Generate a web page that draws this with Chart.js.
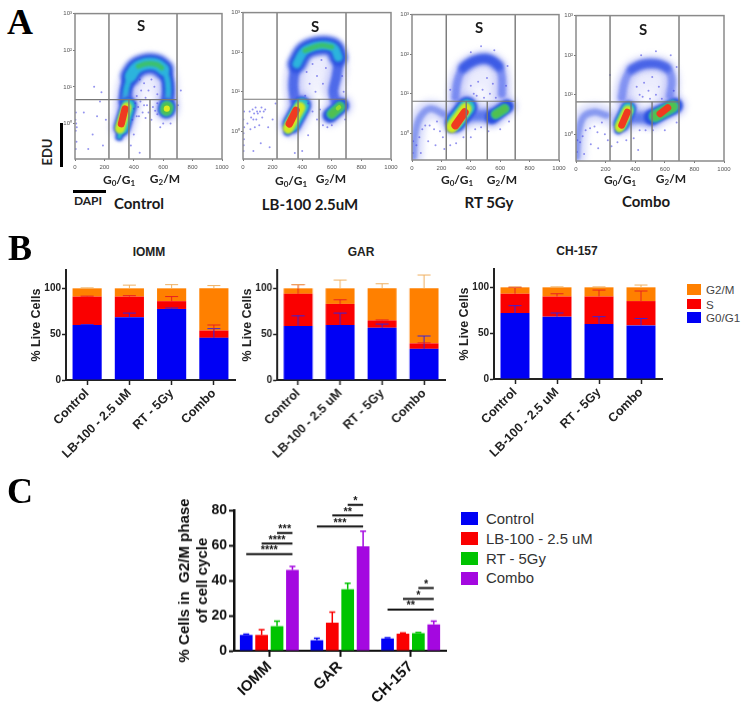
<!DOCTYPE html>
<html><head><meta charset="utf-8">
<script src="https://cdn.jsdelivr.net/npm/chart.js@4"></script>
<style>
html,body{margin:0;padding:0;background:#fff;width:750px;height:705px;overflow:hidden}
canvas{position:absolute}
.t{position:absolute;transform:translate(-50%,-50%);white-space:nowrap;color:#111}
.ltr{font:bold 36px "Liberation Serif";color:#000}
.fl{font:bold 15px Lato;color:#1a1a1a}
.g{font:bold 12px Lato;color:#222}
.g sub{font-size:8px;vertical-align:-2px;line-height:0}
.bt{font:bold 12px "Liberation Sans";color:#222}
.lg{position:absolute;transform:translateY(-50%);white-space:nowrap}
.bar{position:absolute;background:#000}
</style></head><body>
<script>
/* ---------- Panel B: stacked % live cells ---------- */
const stageCategories=['Control','LB-100 - 2.5 uM','RT - 5Gy','Combo'];
const iommG1=[60,68.5,77.5,46], iommS=[31,22.5,8.5,8], iommG2=[9,9,14,46];
const iommG1Err=[0.5,4.5,1,10], iommSErr=[0.5,1,5,6], iommG2Err=[0.5,3.5,4,3];
const garG1=[59,60,57,34], garS=[35,23,8,6], garG2=[6,17,35,60];
const garG1Err=[11,13,4,14], garSErr=[10,4.5,0.5,0.5], garG2Err=[4,9,5,14.5];
const chG1=[72,68,60,58.5], chS=[21,22,30,26.5], chG2=[7,10,10,15];
const chG1Err=[8,4,8,7.5], chSErr=[7,3,7,11], chG2Err=[0.5,0.5,0.5,2.5];
/* ---------- Panel C: G2/M ---------- */
const lineCategories=['IOMM','GAR','CH-157'];
const g2Control=[9,6,7], g2Lb=[9,16,9.7], g2Rt=[14,35,10], g2Combo=[46,59.5,15];
const g2ControlErr=[0.5,1.2,0.5], g2LbErr=[3,6,0.5], g2RtErr=[2.8,3.5,0.5], g2ComboErr=[2,8.5,1.8];
const sigGroup=[0,0,0,1,1,1,2,2,2], sigFrom=[0,1,2,0,1,2,0,1,2];
const sigLevel=[55,61,67,70.7,77,83,23.5,29.5,35.7];
const sigStars=['****','****','***','***','**','*','**','*','*'];
/* ---------- Panel A: flow plots; x = DAPI, y = log10 EDU ---------- */
const flowXTicks=[0,200,400,600,800,1000], flowYTicks=[0,1,2,3];
const arc1=[[340,.62],[351,.98],[379,1.30],[419,1.52],[487,1.63],[555,1.61],[601,1.48],[628,1.21],[635,.89],[630,.62]];
const top1=[[379,1.30],[419,1.52],[487,1.63],[555,1.61],[601,1.48]];
const core1=[[430,1.56],[487,1.63],[555,1.61],[590,1.52]];
const inner1=[[395,.8],[420,1.12],[490,1.25],[555,1.2],[590,.85]];
const g1Tail1=[[301,-.37],[320,-.11]], g1Outer1=[[320,-.11],[363,.49]], g1Mid1=[[306,-.14],[351,.44]], g1Hot1=[[315,-.01],[340,.40]];
const g2Outer1=[[622,.38],[626,.44]], g2Mid1=[[622,.38],[626,.44]], g2Hot1=[[624,.4],[625,.41]];
const noise1=[[5,-.2],[8,0],[3,.1],[10,-.5],[5,-.7],[6,.3],[12,-.1],[60,.3],[120,-.3],[150,.2],[190,-.6],[90,-.7],[210,.1],[170,.6],[130,1.0],[180,.85],[440,1.2],[470,1.1],[500,.9],[520,1.2],[450,.9],[480,.7],[540,1.0],[420,.75],[560,.8],[430,.45],[460,.3],[500,.3],[520,.1],[470,.5],[420,.2],[560,.25],[400,-.3],[380,-.6],[440,-.8],[580,-.1],[600,0],[650,0],[700,.5],[720,.9],[410,.55],[445,.6],[490,.5],[530,.45],[560,.55],[400,.4],[435,.2],[480,.15],[545,.35],[390,.1]];
const arc2=[[351,.78],[340,1.20],[363,1.70],[419,2.04],[520,2.17],[611,2.12],[644,1.87],[633,1.41],[611,1.03],[622,.78]];
const top2=[[363,1.70],[419,2.04],[520,2.17],[611,2.12],[644,1.87]];
const core2=[[419,2.04],[520,2.17],[600,2.13]];
const inner2=[[395,1.0],[400,1.45],[430,1.75],[520,1.85],[590,1.7],[590,1.2]];
const g1Tail2=[[300,-.02],[329,.18]], g1Outer2=[[329,.18],[397,.65]], g1Mid2=[[306,.08],[385,.6]], g1Hot2=[[313,.19],[358,.53]];
const g2Outer2=[[588,.40],[667,.65]], g2Mid2=[[600,.44],[655,.62]], g2Hot2=[[640,.58],[650,.61]];
const noise2=[[4,-.5],[6,-.2],[8,.1],[3,.3],[30,.2],[45,.5],[70,.3],[85,.6],[100,.45],[110,.15],[130,.35],[150,.55],[170,.1],[200,.3],[120,-.3],[70,-.5],[180,-.4],[220,.7],[430,1.5],[470,1.7],[500,1.4],[530,1.8],[450,1.2],[490,1.0],[540,1.2],[420,.9],[560,1.6],[470,.5],[500,.3],[440,.7],[520,.55],[540,.15],[570,.1],[600,.15],[440,-.1],[400,-.5],[350,-.55],[690,.3],[680,1.0],[670,1.4],[55,.35],[65,.55],[75,.45],[90,.3],[95,.5],[115,.5],[140,.5],[80,.1],[50,.05],[125,.6],[4,-.05],[7,.5],[5,-.35]];
const arc3=[[295,.91],[310,1.33],[351,1.66],[430,1.84],[521,1.87],[589,1.70],[612,1.41],[612,.99]];
const top3=[[351,1.66],[430,1.84],[521,1.87],[589,1.70]];
const inner3=[[340,.9],[360,1.25],[440,1.45],[530,1.45],[570,1.2],[570,.85]];
const g1Tail3=[[260,.12],[294,.28]], g1Outer3=[[294,.28],[374,.66]], g1Mid3=[[272,.16],[365,.62]], g1Hot3=[[295,.2],[358,.53]];
const g2Outer3=[[544,.41],[646,.68]], g2Mid3=[[570,.48],[630,.62]], g2Hot3=[[596,.54],[606,.57]];
const sub3=[[11,-.59],[22,0],[56,.41],[124,.62],[215,.49]], bridge3=[[374,.45],[544,.45]];
const noise3=[[5,-.5],[8,-.2],[30,-.3],[50,-.1],[70,.1],[90,.2],[120,.2],[150,.1],[170,.3],[190,.05],[210,-.1],[110,-.2],[160,-.3],[60,-.5],[220,-.4],[260,-.3],[300,-.25],[350,-.1],[400,-.1],[430,.1],[470,.15],[520,.05],[600,.1],[660,.3],[420,1.0],[450,1.3],[480,1.1],[510,1.4],[530,1.0],[550,1.25],[400,1.2],[440,.95],[490,.9],[570,.9],[640,1.2],[650,1.7],[560,2.1],[470,2.2],[400,2.05],[260,1.1]];
const arc4=[[309,.93],[331,1.35],[377,1.64],[455,1.77],[545,1.78],[613,1.68],[647,1.39],[635,.98]];
const top4=[[377,1.64],[455,1.77],[545,1.78],[613,1.68]];
const inner4=[[370,.95],[395,1.25],[460,1.4],[540,1.4],[595,1.2],[590,.85]];
const g1Tail4=[[286,.1],[306,.26]], g1Outer4=[[306,.26],[354,.64]], g1Mid4=[[295,.18],[350,.6]], g1Hot4=[[309,.23],[347,.56]];
const g2Outer4=[[512,.43],[669,.72]], g2Mid4=[[535,.46],[652,.7]], g2Hot4=[[568,.52],[620,.67]];
const sub4=[[5,-.57],[16,.02],[49,.43],[117,.56],[207,.48]], bridge4=[[372,.42],[512,.42]];
const noise4=[[6,-.45],[9,-.15],[28,-.2],[45,-.05],[65,.1],[95,.15],[125,.2],[145,.05],[175,.3],[195,0],[215,-.15],[100,-.25],[150,-.35],[55,-.5],[240,-.3],[280,-.2],[340,-.15],[390,-.1],[430,.1],[470,.1],[520,.1],[600,.1],[680,.3],[430,1.0],[460,1.3],[490,1.1],[515,1.45],[540,1.0],[560,1.2],[410,1.2],[450,.95],[500,.9],[580,.9],[660,1.1],[680,1.7],[640,2.0],[540,2.1],[440,2.0],[230,1.5],[420,-.4]];
const gates1=[231,367,510,694], gateY1=.65, yMin1=-.97;
const gates2=[230,372,514,696], gateY2=.81, yMin2=-.7;
const gates3=[233,369,512,702], gateY3=.81, yMin3=-.675;
const gates4=[230,372,514,696], gateY4=.82, yMin4=-.675;

/* ---------- helpers ---------- */
Chart.defaults.font.family='"Liberation Sans"';
Chart.defaults.animation=false;
Chart.defaults.plugins.legend.display=false;
Chart.defaults.plugins.tooltip.enabled=false;

function mk(type,box,data,options,plugins){
  const c=document.createElement('canvas');
  c.width=box.cw;c.height=box.ch;
  c.style.left=box.cx+'px';c.style.top=box.cy+'px';
  c.style.width=box.cw+'px';c.style.height=box.ch+'px';
  if(box.blur)c.style.filter='blur('+box.blur+'px)';
  document.body.appendChild(c);
  options.responsive=false;
  options.layout={padding:{top:box.pt,right:box.pr,left:0,bottom:0}};
  options.scales.x.afterFit=s=>{s.height=box.hb};
  options.scales.y.afterFit=s=>{s.width=box.wl};
  return new Chart(c,{type,data,options,plugins:plugins||[]});
}
function geom(l,r,t,b,wl,pt,pr,hb,extra){
  return Object.assign({cx:l-wl,cy:t-pt,cw:wl+(r-l)+pr,ch:pt+(b-t)+hb,wl,pt,pr,hb},extra||{});
}
const pts=a=>a.map(p=>({x:p[0],y:p[1]}));
const band=(a,color,w,tension,soft)=>({data:pts(a),showLine:true,borderColor:color,backgroundColor:color,borderWidth:w,pointRadius:0,tension:tension===undefined?.4:tension,borderCapStyle:'round',borderJoinStyle:'round',soft:soft||0});

/* panel A */
const softEdge={id:'softEdge',
  beforeDatasetDraw(c,a){const s=c.data.datasets[a.index].soft;if(s){c.ctx.save();c.ctx.filter='blur('+s+'px)';}},
  afterDatasetDraw(c,a){const s=c.data.datasets[a.index].soft;if(s){c.ctx.restore();}}};
const frame={id:'frame',afterDatasetsDraw(c){const a=c.chartArea,x=c.ctx;x.save();x.strokeStyle='#8a8a8a';x.lineWidth=1.5;x.strokeRect(a.left,a.top,a.right-a.left,a.bottom-a.top);x.restore();}};
const sup=['\u2070','\u00b9','\u00b2','\u00b3'];
function flow(box,d){
  const L=[];
  L.push(band(d.inner,'rgba(130,135,240,.16)',d.wInner,.4,4));
  if(d.sub){L.push(band(d.sub,'rgba(110,125,240,.28)',18,.4,3));L.push(band(d.sub,'rgba(60,90,230,.5)',7,.4,1.6));}
  if(d.bridge){L.push(band(d.bridge,'rgba(110,125,240,.35)',20,0,3));L.push(band(d.bridge,'rgba(50,90,230,.72)',11,0,2));}
  L.push(band(d.arc,'rgba(110,120,240,.3)',d.wHalo,.4,3));
  L.push(band(d.arc,d.cBlue,d.wBlue,.4,1.8));
  L.push(band(d.top,d.cTopBlue,d.wTopBlue,.4,2));
  if(d.wSideCyan)L.push(band(d.arc,'#2cb4dc',d.wSideCyan,.4,1.5));
  if(d.wCyan)L.push(band(d.top,'#2cb4dc',d.wCyan,.4,1.5));
  if(d.wCore)L.push(band(d.core,'#3cc070',d.wCore,.4,1.2));
  L.push(band(d.g1Outer,'rgba(110,120,240,.4)',d.g1W[0]+6,0,3));
  L.push(band(d.g1Tail,'#2a50e0',8,0,1.5));
  L.push(band(d.g1Outer,'#2a50e0',d.g1W[0],0,1.5));
  L.push(band(d.g1Outer,'#2cc0c8',d.g1W[1],0,1.2));
  L.push(band(d.g1Tail,'#2cc0c8',4,0,1));
  L.push(band(d.g1Mid,'#cfe820',d.g1W[2],0,1));
  L.push(band(d.g1Hot,'#f03a20',d.g1W[3],0,.7));
  L.push(band(d.g2Outer,'rgba(110,120,240,.4)',d.g2W[0]+6,0,3));
  L.push(band(d.g2Outer,'#2a50e0',d.g2W[0],0,1.5));
  L.push(band(d.g2Mid,'#2cb4b0',d.g2W[1],0,1.2));
  L.push(band(d.g2Mid,'#50c050',d.g2W[2],0,1));
  L.push(band(d.g2Hot,d.g2HotC,d.g2W[3],0,.7));
  L.push({data:pts(d.noise),showLine:false,pointRadius:1,pointBackgroundColor:'rgba(60,60,225,.55)',pointBorderWidth:0});
  const gc='#777';
  [0,3].forEach(i=>{const s=band([[d.gates[i],d.yMin],[d.gates[i],3]],gc,1.4,0);s.borderCapStyle='butt';L.push(s);});
  [1,2].forEach(i=>{const s=band([[d.gates[i],d.yMin],[d.gates[i],d.gateY]],gc,1.4,0);s.borderCapStyle='butt';L.push(s);});
  const h=band([[0,d.gateY],[d.gates[3],d.gateY]],gc,1.2,0);h.borderCapStyle='butt';L.push(h);
  mk('scatter',box,{datasets:L.reverse()},{
    scales:{
      x:{type:'linear',min:0,max:1000,afterBuildTicks:s=>{s.ticks=flowXTicks.map(v=>({value:v}))},
         border:{display:false},grid:{drawOnChartArea:false,tickLength:2,tickColor:'#777'},
         ticks:{font:{size:6},color:'#555',padding:3,maxRotation:0,autoSkip:false,callback:v=>String(v)}},
      y:{type:'linear',min:d.yMin,max:3,afterBuildTicks:s=>{s.ticks=flowYTicks.map(v=>({value:v}))},
         border:{display:false},grid:{drawOnChartArea:false,tickLength:2,tickColor:'#777'},
         ticks:{font:{size:6},color:'#555',padding:1,callback:v=>'10'+sup[v]}}
    }},[softEdge,frame]);
}
const fb={blur:.4};
flow(geom(75,222,12,159,18,3,10,17,fb),{arc:arc1,top:top1,core:core1,inner:inner1,wInner:22,g1Tail:g1Tail1,g1Outer:g1Outer1,g1Mid:g1Mid1,g1Hot:g1Hot1,g2Outer:g2Outer1,g2Mid:g2Mid1,g2Hot:g2Hot1,noise:noise1,gates:gates1,gateY:gateY1,yMin:yMin1,wHalo:20,wBlue:13,wTopBlue:20,cBlue:'#2a50e0',cTopBlue:'#2a50e0',wSideCyan:6,wCyan:12,wCore:5,g1W:[17,13,10,7],g2W:[18,14,11,6],g2HotC:'#dcec20'});
flow(geom(243,391,11,159,18,3,10,17,fb),{arc:arc2,top:top2,core:core2,inner:inner2,wInner:26,g1Tail:g1Tail2,g1Outer:g1Outer2,g1Mid:g1Mid2,g1Hot:g1Hot2,g2Outer:g2Outer2,g2Mid:g2Mid2,g2Hot:g2Hot2,noise:noise2,gates:gates2,gateY:gateY2,yMin:yMin2,wHalo:18,wBlue:10,wTopBlue:18,cBlue:'rgba(45,80,230,.78)',cTopBlue:'#2a50e0',wSideCyan:0,wCyan:9,wCore:5,g1W:[19,15,11,7.5],g2W:[15,11,8,4],g2HotC:'#90dc30'});
flow(geom(411.7,559,13,160,18,3,10,17,fb),{arc:arc3,top:top3,inner:inner3,wInner:24,g1Tail:g1Tail3,g1Outer:g1Outer3,g1Mid:g1Mid3,g1Hot:g1Hot3,g2Outer:g2Outer3,g2Mid:g2Mid3,g2Hot:g2Hot3,noise:noise3,sub:sub3,bridge:bridge3,gates:gates3,gateY:gateY3,yMin:yMin3,wHalo:16,wBlue:8,wTopBlue:11,cBlue:'rgba(60,90,235,.55)',cTopBlue:'rgba(35,70,225,.72)',wSideCyan:0,wCyan:0,wCore:0,g1W:[21,16,12,8],g2W:[14,10,8,3],g2HotC:'#50c050'});
flow(geom(576,724,14,161,18,3,10,17,fb),{arc:arc4,top:top4,inner:inner4,wInner:24,g1Tail:g1Tail4,g1Outer:g1Outer4,g1Mid:g1Mid4,g1Hot:g1Hot4,g2Outer:g2Outer4,g2Mid:g2Mid4,g2Hot:g2Hot4,noise:noise4,sub:sub4,bridge:bridge4,gates:gates4,gateY:gateY4,yMin:yMin4,wHalo:16,wBlue:8,wTopBlue:10,cBlue:'rgba(60,90,235,.5)',cTopBlue:'rgba(35,70,225,.62)',wSideCyan:0,wCyan:0,wCore:0,g1W:[16,13,10,7],g2W:[16,13,10,7],g2HotC:'#f03a20'});

/* error whiskers */
const errorBars={id:'errorBars',afterDatasetsDraw(c,_,o){
  const x=c.ctx,y=c.scales.y;x.save();
  c.data.datasets.forEach((ds,i)=>{
    const m=c.getDatasetMeta(i),er=o.errors[i];
    m.data.forEach((b,j)=>{
      const stacked=o.stacked?c.data.datasets.slice(0,i+1).reduce((s,d)=>s+d.data[j],0):ds.data[j];
      const p0=y.getPixelForValue(stacked),p1=y.getPixelForValue(stacked+er[j]);
      x.strokeStyle=o.colors[i];x.lineWidth=o.lw;
      x.beginPath();x.moveTo(b.x,p0);x.lineTo(b.x,p1);x.moveTo(b.x-o.cap,p1);x.lineTo(b.x+o.cap,p1);x.stroke();
    });
  });x.restore();}};

/* panel B */
function stack(box,g1,s,g2,e1,e2,e3){
  mk('bar',box,{labels:stageCategories,datasets:[
    {label:'G0/G1',data:g1,backgroundColor:'#0000f5'},
    {label:'S',data:s,backgroundColor:'#fa0000'},
    {label:'G2/M',data:g2,backgroundColor:'#ff8000'}]},
   {barPercentage:.69,categoryPercentage:1,
    scales:{
     x:{stacked:true,border:{color:'#222',width:2},grid:{offset:false,drawOnChartArea:false,tickLength:5,tickColor:'#222',tickWidth:1.5},
        ticks:{autoSkip:false,maxRotation:45,minRotation:45,padding:1,color:'#222',font:{size:12.5,weight:'bold'}}},
     y:{stacked:true,min:0,max:120,afterBuildTicks:s=>{s.ticks=[0,50,100].map(v=>({value:v}))},
        border:{color:'#222',width:2},grid:{drawOnChartArea:false,tickLength:4,tickColor:'#222',tickWidth:1.5},
        title:{display:true,text:'% Live Cells',padding:0,color:'#222',font:{size:12.5,weight:'bold'}},
        ticks:{padding:1,color:'#222',font:{size:10,weight:'bold'}}}},
    plugins:{errorBars:{errors:[e1,e2,e3],stacked:true,colors:['#3a22d8','#e82020','#f0b060'],lw:1,cap:6.5}}},[errorBars]);
}
stack(geom(66,235,268,380.3,37,5,5,82),iommG1,iommS,iommG2,iommG1Err,iommSErr,iommG2Err);
stack(geom(277.3,445,268,380.3,37,5,5,82),garG1,garS,garG2,garG1Err,garSErr,garG2Err);
stack(geom(494,662,267,379,37,5,5,82),chG1,chS,chG2,chG1Err,chSErr,chG2Err);

/* panel C */
const sigBars={id:'sigBars',afterDatasetsDraw(c,_,o){
  const x=c.ctx,y=c.scales.y;x.save();x.strokeStyle='#111';x.fillStyle='#111';x.lineWidth=2;
  x.textAlign='center';x.textBaseline='bottom';x.font='bold 11px "Liberation Sans"';
  sigLevel.forEach((v,i)=>{
    const a=c.getDatasetMeta(sigFrom[i]).data[sigGroup[i]].x,b=c.getDatasetMeta(3).data[sigGroup[i]].x,p=y.getPixelForValue(v);
    x.beginPath();x.moveTo(a,p);x.lineTo(b,p);x.stroke();
    x.fillText(sigStars[i],(a+b)/2,p+2);
  });x.restore();}};
mk('bar',geom(234,446,510,650.7,58,30,5,55),{labels:lineCategories,datasets:[
  {label:'Control',data:g2Control,backgroundColor:'#0000f5'},
  {label:'LB-100 - 2.5 uM',data:g2Lb,backgroundColor:'#fa0000'},
  {label:'RT - 5Gy',data:g2Rt,backgroundColor:'#00c400'},
  {label:'Combo',data:g2Combo,backgroundColor:'#a408e0'}]},
 {barPercentage:.825,categoryPercentage:.872,
  scales:{
   x:{border:{color:'#111',width:2},grid:{offset:false,drawOnChartArea:false,tickLength:6,tickColor:'#111',tickWidth:2},
      ticks:{autoSkip:false,maxRotation:45,minRotation:45,padding:1,color:'#111',font:{size:15,weight:'bold'}}},
   y:{min:0,max:80,afterBuildTicks:s=>{s.ticks=[0,20,40,60,80].map(v=>({value:v}))},
      border:{color:'#111',width:2.5},grid:{drawOnChartArea:false,tickLength:5,tickColor:'#111',tickWidth:2},
      title:{display:true,text:['% Cells in  G2/M phase','of cell cycle'],padding:0,color:'#111',font:{size:15,weight:'bold'}},
      ticks:{padding:2,color:'#111',font:{size:14,weight:'bold'}}}},
  plugins:{errorBars:{errors:[g2ControlErr,g2LbErr,g2RtErr,g2ComboErr],stacked:false,colors:['#0000f5','#fa0000','#00c400','#a408e0'],lw:1.5,cap:3}}},[errorBars,sigBars]);

/* annotations */
function T(cls,x,y,html,style){const d=document.createElement('div');d.className='t '+cls;d.style.left=x+'px';d.style.top=y+'px';d.innerHTML=html;if(style)d.style.cssText+=';'+style;document.body.appendChild(d);}
function R(x,y,w,h,c){const d=document.createElement('div');d.className='bar';d.style.cssText+=`;left:${x}px;top:${y}px;width:${w}px;height:${h}px;background:${c||'#000'}`;document.body.appendChild(d);}
T('ltr',20,22,'A');T('ltr',20,248,'B');T('ltr',20,491,'C');
[[141,25],[315,26],[479,27],[643,29]].forEach(p=>T('fl',p[0],p[1],'S'));
[[119,179,165,178],[291,180,331,178],[457,179,502,179],[620,179,671,178]].forEach(p=>{
  T('g',p[0],p[1],'G<sub>0</sub>/G<sub>1</sub>');T('g',p[2],p[3],'G<sub>2</sub>/M');});
T('fl',139,203,'Control');T('fl',310,204,'LB-100 2.5uM');T('fl',489,202,'RT 5Gy');T('fl',646,201,'Combo');
T('g',88,200,'DAPI');T('g',47,152,'EDU','transform:translate(-50%,-50%) rotate(-90deg);font-size:13px');
R(60,123,3,44);R(73,190,33,3);
T('bt',149,252,'IOMM');T('bt',361,252,'GAR');T('bt',577,251,'CH-157');
[['G2/M','#ff8000',289],['S','#fa0000',303.5],['G0/G1','#0000f5',317]].forEach(r=>{
  R(687,r[2]-5,14,10.5,r[1]);
  const d=document.createElement('div');d.className='lg';d.style.cssText+=`;left:706px;top:${r[2]}px;font:11.6px "Liberation Sans";color:#444`;d.textContent=r[0];document.body.appendChild(d);});
[['Control','#0000f5',518.5],['LB-100 - 2.5 uM','#fa0000',538.5],['RT - 5Gy','#00c400',558.5],['Combo','#a408e0',578]].forEach(r=>{
  R(460.7,r[2]-6.5,17,13,r[1]);
  const d=document.createElement('div');d.className='lg';d.style.cssText+=`;left:486px;top:${r[2]}px;font:14.9px "Liberation Sans";color:#333`;d.textContent=r[0];document.body.appendChild(d);});
</script>
</body></html>
